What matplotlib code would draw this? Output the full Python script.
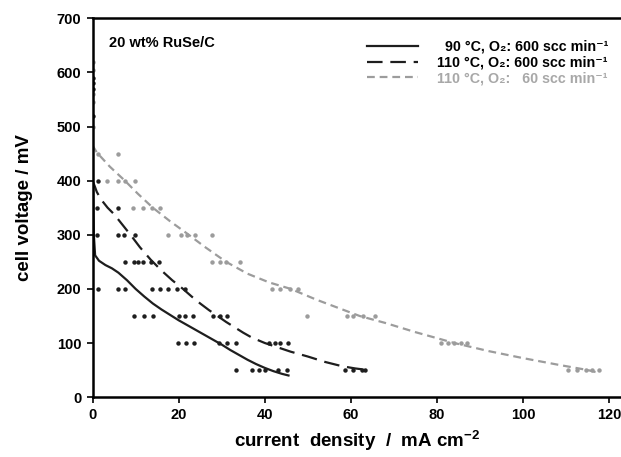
import numpy as np
import matplotlib
matplotlib.use('Agg')
from matplotlib import pyplot as plt

plt.rcParams['font.family'] = ['Liberation Sans', 'DejaVu Sans']
plt.rcParams['font.weight'] = 'bold'
plt.rcParams['axes.labelweight'] = 'bold'
plt.rcParams['mathtext.fontset'] = 'custom'
plt.rcParams['mathtext.rm'] = 'Liberation Sans:bold'
plt.rcParams['mathtext.it'] = 'Liberation Sans:bold'
plt.rcParams['mathtext.bf'] = 'Liberation Sans:bold'
plt.rcParams['mathtext.sf'] = 'Liberation Sans:bold'

# curvas ajustadas (densidad de corriente mA/cm2, voltaje mV)
x90 = [0, 0.1, 0.3, 0.6, 1.5, 3, 4.5, 6, 8, 10, 12, 14, 16, 18, 20, 22, 24, 26, 28, 30, 32, 34, 36, 38, 40, 42, 44, 45.5]
y90 = [600, 400, 300, 262, 252, 244, 238, 230, 216, 200, 186, 173, 162, 152, 142, 133, 124, 115, 106, 97, 87, 78, 69, 61, 54, 48, 43, 40]

x110 = [0, 0.5, 1, 2, 3.5, 5, 7, 9, 11, 13.5, 16, 18.5, 21, 23, 25, 27, 29, 31, 33, 35, 37, 40, 43, 46, 50, 54, 58, 61, 63]
y110 = [400, 390, 379, 365, 350, 338, 318, 298, 277, 254, 234, 216, 200, 186, 173, 161, 150, 139, 129, 119, 110, 100, 92, 84, 75, 65, 57, 53, 51]

x110b = [0, 1, 4, 7.5, 10.5, 14, 18, 22, 26, 31, 36, 41, 46, 52, 57, 62, 68, 75, 84, 92, 100, 108, 115, 117.5]
y110b = [465, 452, 426, 400, 376, 350, 325, 302, 278, 250, 228, 212, 200, 180, 165, 150, 137, 120, 100, 85, 72, 60, 50, 45]

# puntos medidos, negros
px_neg = [0, 0, 0, 0, 1.2, 1, 6, 1, 6, 7.2, 9.9,
          7.5, 9.6, 10.5, 11.8, 13.5, 15.4,
          1.3, 5.8, 7.5, 13.7, 15.6, 17.6, 19.5, 21.5,
          9.7, 12.0, 14.1, 20.1, 21.5, 23.4, 28.0, 29.6, 31.2,
          19.9, 21.7, 23.6, 29.4, 31.2, 33.2, 41.0, 42.4, 43.5, 45.5,
          33.2, 37.1, 38.7, 40.0, 43.1, 45.1, 58.6, 60.5, 62.5, 63.3]
py_neg = [590, 580, 570, 520, 400, 350, 350, 300, 300, 300, 300,
          250, 250, 250, 250, 250, 250,
          200, 200, 200, 200, 200, 200, 200, 200,
          150, 150, 150, 150, 150, 150, 150, 150, 150,
          100, 100, 100, 100, 100, 100, 100, 100, 100, 100,
          50, 50, 50, 50, 50, 50, 50, 50, 50, 50]

# puntos medidos, grises
px_gris = [0, 0, 0, 0, 0, 1.3, 6, 3.3, 6, 7.5, 9.9,
           9.5, 11.8, 13.7, 15.7,
           17.6, 20.5, 21.9, 23.8, 27.7,
           27.7, 29.6, 31.1, 34.2,
           41.6, 43.5, 45.8, 47.8,
           49.9, 59.0, 60.5, 62.9, 65.6,
           81.0, 82.5, 84.0, 85.5, 87.0,
           110.5, 112.5, 114.5, 116.0, 117.5]
py_gris = [620, 605, 560, 545, 500, 450, 450, 400, 400, 400, 400,
           350, 350, 350, 350,
           300, 300, 300, 300, 300,
           250, 250, 250, 250,
           200, 200, 200, 200,
           150, 150, 150, 150, 150,
           100, 100, 100, 100, 100,
           50, 50, 50, 50, 50]

etiquetas = ['  90 °C, O₂: 600 scc min⁻¹',
             '110 °C, O₂: 600 scc min⁻¹',
             '110 °C, O₂:   60 scc min⁻¹']

negro = '#1e1e1e'
gris = '#9c9c9c'

fig = plt.figure(figsize=(6.21, 4.57), dpi=100)
ax = fig.add_axes([0.149, 0.131, 0.851, 0.829])

ax.plot(px_gris, py_gris, 'o', color=gris, ms=3.2, mec='none')
ax.plot(px_neg, py_neg, 'o', color=negro, ms=3.2, mec='none')

l1, = ax.plot(x90, y90, '-', color=negro, lw=1.6)
l2, = ax.plot(x110, y110, '--', color=negro, lw=1.6, dashes=(7, 3.5))
l3, = ax.plot(x110b, y110b, '--', color=gris, lw=1.6, dashes=(3.5, 2.2))

ax.set_xlim(0, 122.7)
ax.set_ylim(0, 700)
ax.set_xticks(np.arange(0, 121, 20))
ax.set_yticks(np.arange(0, 701, 100))
ax.spines['right'].set_visible(False)
for s in ['left', 'bottom', 'top']:
    ax.spines[s].set_linewidth(1.8)
ax.tick_params(direction='out', length=4, width=1.2, labelsize=10.5, pad=4)

ax.set_xlabel('current  density  /  mA cm$^{-2}$', fontsize=13.5, labelpad=5)
ax.set_ylabel('cell voltage / mV', fontsize=13.5, labelpad=17)

ax.text(3.8, 655, '20 wt% RuSe/C', fontsize=10.5, va='center')

leg = ax.legend([l1, l2, l3], etiquetas,
                loc='upper right', bbox_to_anchor=(1.0, 0.977), frameon=False,
                fontsize=10.3, handlelength=3.6, labelspacing=0.12, handletextpad=1.3)
leg.get_texts()[2].set_color('#a8a8a8')

plt.savefig('out.png', dpi=100)
